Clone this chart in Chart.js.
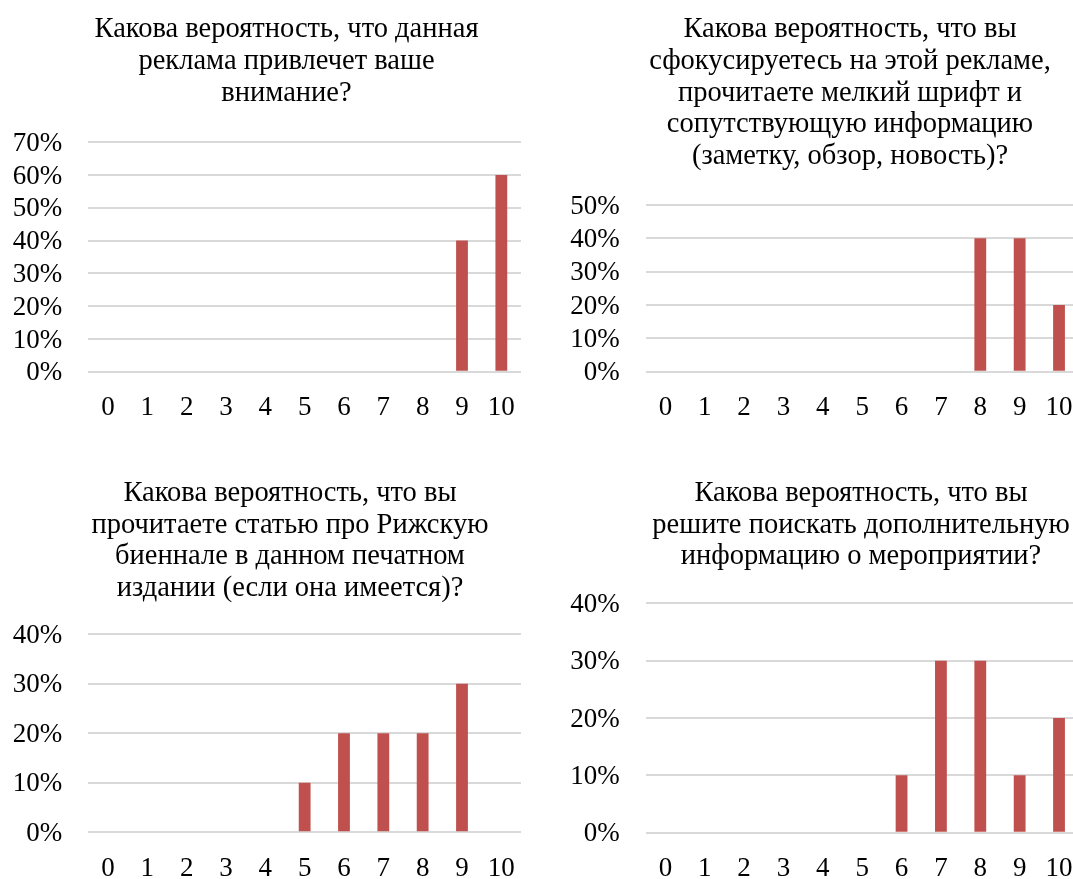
<!DOCTYPE html>
<html>
<head>
<meta charset="utf-8">
<script src="https://cdn.jsdelivr.net/npm/chart.js@4/dist/chart.umd.min.js"></script>
<style>
  html, body { margin: 0; padding: 0; background: #ffffff; overflow: hidden; width: 1073px; height: 879px; }
  canvas { position: absolute; }
</style>
</head>
<body>
<canvas id="c1" width="540" height="430" style="left:0px;top:0px;"></canvas>
<canvas id="c2" width="540" height="430" style="left:540px;top:0px;"></canvas>
<canvas id="c3" width="540" height="419" style="left:0px;top:460px;"></canvas>
<canvas id="c4" width="540" height="419" style="left:540px;top:460px;"></canvas>
<script>
// ---- data ----
const categories = ["0", "1", "2", "3", "4", "5", "6", "7", "8", "9", "10"];

const titleAttention = ["Какова вероятность, что данная", "реклама привлечет ваше", "внимание?"];
const titleFocus = ["Какова вероятность, что вы", "сфокусируетесь на этой рекламе,", "прочитаете мелкий шрифт и", "сопутствующую информацию", "(заметку, обзор, новость)?"];
const titleArticle = ["Какова вероятность, что вы", "прочитаете статью про Рижскую", "биеннале в данном печатном", "издании (если она имеется)?"];
const titleSearch = ["Какова вероятность, что вы", "решите поискать дополнительную", "информацию о мероприятии?"];

// percent of respondents per score
const valuesAttention = [0, 0, 0, 0, 0, 0, 0, 0, 0, 40, 60];
const valuesFocus     = [0, 0, 0, 0, 0, 0, 0, 0, 40, 40, 20];
const valuesArticle   = [0, 0, 0, 0, 0, 10, 20, 20, 20, 30, 0];
const valuesSearch    = [0, 0, 0, 0, 0, 0, 10, 30, 30, 10, 20];

// y-axis tick maxima (percent)
const yMaxAttention = 70;
const yMaxFocus = 50;
const yMaxArticle = 40;
const yMaxSearch = 40;

// ---- rendering ----
const BAR = '#C0504D';
const GRID = '#d9d9d9';
const TEXT = '#000000';
const FONT = '"Liberation Serif", "Times New Roman", serif';

function makeChart(id, labels, values, yMax, title, geo) {
  const ctx = document.getElementById(id).getContext('2d');
  return new Chart(ctx, {
    type: 'bar',
    data: {
      labels: labels,
      datasets: [{
        data: values,
        backgroundColor: BAR,
        borderWidth: 0,
        barPercentage: 0.3,
        categoryPercentage: 1.0
      }]
    },
    options: {
      responsive: false,
      animation: false,
      devicePixelRatio: 1,
      layout: {
        padding: { left: geo.padL, right: geo.padR, top: 0, bottom: geo.padB }
      },
      plugins: {
        legend: { display: false },
        tooltip: { enabled: false },
        title: {
          display: true,
          text: title,
          color: TEXT,
          font: { family: FONT, size: 28.5, weight: 'normal', lineHeight: '31.7px' },
          padding: { top: geo.tTop, bottom: geo.tBot }
        }
      },
      scales: {
        x: {
          grid: { display: false, drawTicks: false },
          border: { display: false },
          ticks: {
            color: TEXT,
            font: { family: FONT, size: 27, lineHeight: '73px' },
            padding: 0,
            autoSkip: false,
            maxRotation: 0,
            minRotation: 0
          },
          afterFit: (s) => { s.height = geo.xH; s._computeLabelArea = () => undefined; }
        },
        y: {
          min: 0,
          max: yMax,
          grid: { color: GRID, lineWidth: 2, drawTicks: false },
          border: { display: false },
          ticks: {
            stepSize: 10,
            autoSkip: false,
            color: TEXT,
            font: { family: FONT, size: 27, lineHeight: 1.2 },
            padding: 26,
            labelOffset: 1.5,
            callback: (v) => v + '%'
          },
          afterFit: (s) => { s.width = geo.yW; s._computeLabelArea = () => undefined; }
        }
      }
    }
  });
}

makeChart('c1', categories, valuesAttention, yMaxAttention, titleAttention,
  { padL: 52, padR: 19, padB: 8.3, tTop: 14, tBot: 33.2, xH: 50, yW: 36.3 });
makeChart('c2', categories, valuesFocus, yMaxFocus, titleFocus,
  { padL: 81.3, padR: 1.3, padB: 8.3, tTop: 14, tBot: 32.5, xH: 50, yW: 24.4 });
makeChart('c3', categories, valuesArticle, yMaxArticle, titleArticle,
  { padL: 59, padR: 19, padB: 0.7, tTop: 17.7, tBot: 29.8, xH: 46, yW: 29.3 });
makeChart('c4', categories, valuesSearch, yMaxSearch, titleSearch,
  { padL: 103.3, padR: 1.3, padB: 0.3, tTop: 17.7, tBot: 30.5, xH: 46, yW: 2.4 });
</script>
</body>
</html>
